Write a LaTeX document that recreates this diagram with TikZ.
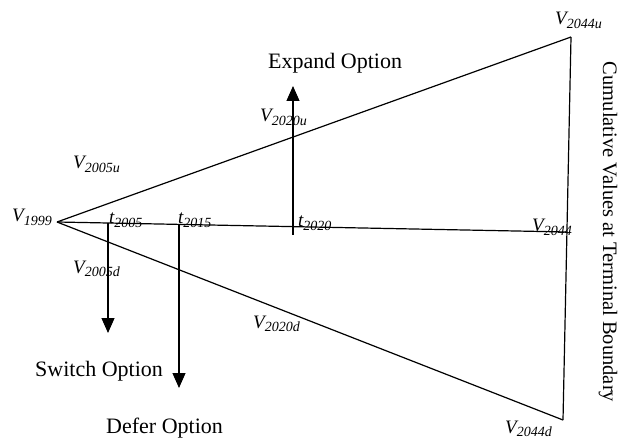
\documentclass[tikz,border=0pt]{standalone}
\usepackage{fontspec}
\setmainfont{Liberation Serif}
\usetikzlibrary{arrows.meta}
\newcommand{\Vlab}[2]{{\fontsize{19}{19}\selectfont\itshape #1}\raisebox{-3.5pt}{\fontsize{14}{14}\selectfont\itshape #2}}
\tikzset{
  edge/.style={line width=1.2pt},
  optarrow/.style={line width=1.1pt,-{Triangle[length=15pt,width=13pt]}},
  lab/.style={inner sep=0pt,anchor=base west},
  opt/.style={inner sep=0pt,anchor=base west,font=\fontsize{22}{22}\selectfont},
}
\begin{document}
\begin{tikzpicture}[x=1pt,y=-1pt]
\useasboundingbox (0,0) rectangle (620,443);
% vertices
\coordinate (A) at (57,222);
\coordinate (U) at (571,37);
\coordinate (D) at (563,420);
\coordinate (M) at (567,232);
\draw[edge] (A) -- (U);
\draw[edge] (A) -- (D);
\draw[edge] (A) -- (M);
\draw[edge] (U) -- (D);
% option arrows
\coordinate (s0) at (108,223);
\coordinate (s1) at (108,333);
\coordinate (d0) at (179,224.5);
\coordinate (d1) at (179,388);
\coordinate (e0) at (293,235);
\coordinate (e1) at (293,86);
\draw[optarrow] (s0) -- (s1);
\draw[optarrow] (d0) -- (d1);
\draw[optarrow] (e0) -- (e1);
% labels
\node[lab] (v1999) at (12,222) {\Vlab{V}{1999}};
\node[lab] (v2005u) at (73,169) {\Vlab{V}{2005u}};
\node[lab] (v2005d) at (73,273) {\Vlab{V}{2005d}};
\node[lab] (v2020u) at (260,122) {\Vlab{V}{2020u}};
\node[lab] (v2020d) at (253,328) {\Vlab{V}{2020d}};
\node[lab] (v2044u) at (555,25) {\Vlab{V}{2044u}};
\node[lab] (v2044) at (532,232) {\Vlab{V}{2044}};
\node[lab] (v2044d) at (505,433) {\Vlab{V}{2044d}};
\node[lab] (t2005) at (109,224) {\Vlab{t}{2005}};
\node[lab] (t2015) at (178,224) {\Vlab{t}{2015}};
\node[lab] (t2020) at (298,227) {\Vlab{t}{2020}};
\node[opt] (expand) at (268,69) {Expand Option};
\node[opt] (switch) at (35,376) {Switch Option};
\node[opt] (defer) at (106,433) {Defer Option};
\node[inner sep=0pt,rotate=-90,font=\fontsize{20.5}{20.5}\selectfont] (cum) at (608,232) {Cumulative Values at Terminal Boundary};
\end{tikzpicture}
\end{document}
